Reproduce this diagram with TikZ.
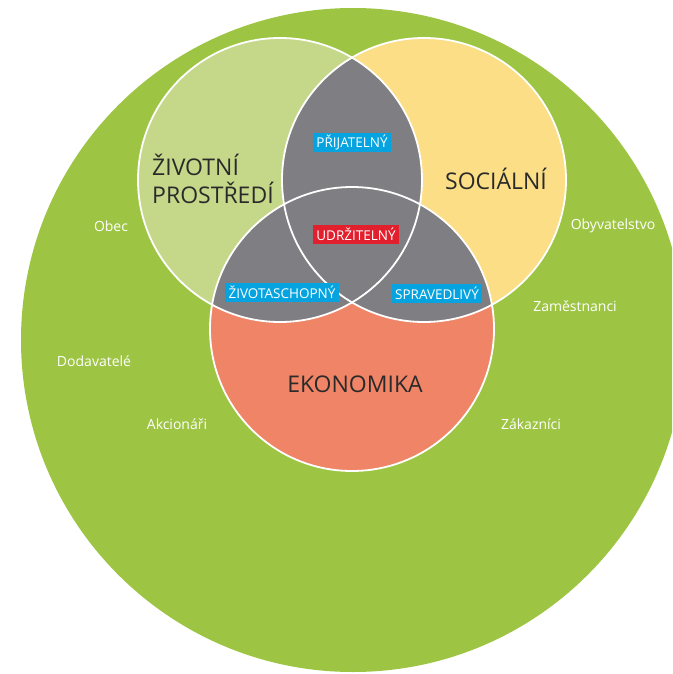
\documentclass[tikz,border=0pt]{standalone}
\usepackage{fontspec}
\setmainfont{Open Sans}
\definecolor{outergreen}{HTML}{9DC543}
\definecolor{envgreen}{HTML}{C5D88A}
\definecolor{socyellow}{HTML}{FBDE86}
\definecolor{ecosalmon}{HTML}{F08466}
\definecolor{lensgray}{HTML}{7F7F83}
\definecolor{tagblue}{HTML}{05A3DF}
\definecolor{tagred}{HTML}{E21F2D}
\definecolor{darktext}{HTML}{2A2A2A}
\tikzset{
  bigtext/.style={font=\fontsize{23}{28}\selectfont, text=darktext, align=left, inner sep=0pt},
  tagbox/.style={fill=tagblue, text=white, font=\fontsize{13.5}{15}\selectfont, inner xsep=3.5pt, inner ysep=0pt, minimum height=19pt},
  redbox/.style={tagbox, fill=tagred},
  outerlabel/.style={text=white, font=\fontsize{14}{16}\selectfont, inner sep=0pt},
  ring/.style={draw=white, line width=1.8pt}
}
\begin{document}
\begin{tikzpicture}[x=1pt, y=-1pt]
  \useasboundingbox (0,0) rectangle (672,674);
  \clip (0,0) rectangle (672,674);
  % outer circle
  \fill[outergreen] (353,340) circle[radius=332pt];
  % three circles
  \fill[envgreen] (280,180) circle[radius=142pt];
  \fill[socyellow] (424,180) circle[radius=142pt];
  \fill[ecosalmon] (352,329) circle[radius=142pt];
  % intersections
  \begin{scope}
    \clip (280,180) circle[radius=142pt];
    \fill[lensgray] (424,180) circle[radius=142pt];
    \fill[lensgray] (352,329) circle[radius=142pt];
  \end{scope}
  \begin{scope}
    \clip (424,180) circle[radius=142pt];
    \fill[lensgray] (352,329) circle[radius=142pt];
  \end{scope}
  % outlines
  \draw[ring] (280,180) circle[radius=142pt];
  \draw[ring] (424,180) circle[radius=142pt];
  \draw[ring] (352,329) circle[radius=142pt];
  % main labels
  \node[bigtext, anchor=west] (env) at (152,179) {ŽIVOTNÍ\\PROSTŘEDÍ};
  \node[bigtext] (soc) at (496,179) {SOCIÁLNÍ};
  \node[bigtext] (eco) at (355,384) {EKONOMIKA};
  % tags
  \node[tagbox] (prij) at (352,142) {PŘIJATELNÝ};
  \node[redbox] (udrz) at (356,234) {UDRŽITELNÝ};
  \node[tagbox] (ziv) at (282,292) {ŽIVOTASCHOPNÝ};
  \node[tagbox] (sprav) at (437,293) {SPRAVEDLIVÝ};
  % stakeholders
  \node[outerlabel] (obec) at (111,226) {Obec};
  \node[outerlabel] (obyv) at (613,226) {Obyvatelstvo};
  \node[outerlabel] (zam) at (575,306) {Zaměstnanci};
  \node[outerlabel] (dod) at (94,361) {Dodavatelé};
  \node[outerlabel] (akc) at (177,424) {Akcionáři};
  \node[outerlabel] (zak) at (531,424) {Zákazníci};
\end{tikzpicture}
\end{document}
